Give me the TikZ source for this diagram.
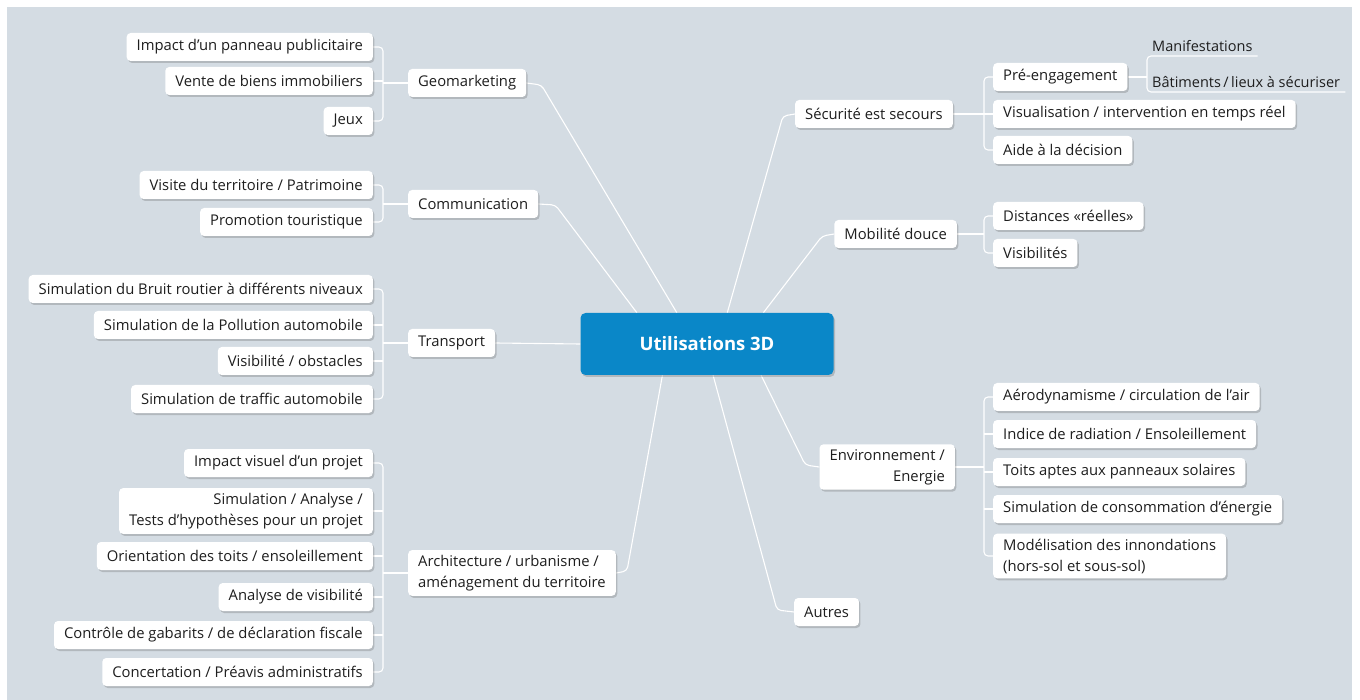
\documentclass[tikz,border=0pt]{standalone}
\usepackage{fontspec}
\setmainfont{Open Sans}
\usetikzlibrary{positioning,shadows}

\definecolor{bgblue}{HTML}{D4DCE3}
\definecolor{hubblue}{HTML}{0A87C8}
\definecolor{ink}{HTML}{1E1E1E}

\pgfdeclarelayer{bg}
\pgfdeclarelayer{links}
\pgfsetlayers{bg,links,main}

\tikzset{
    box/.style = {fill=white, rounded corners=4pt, text=ink,
        font=\fontsize{14.8}{21}\selectfont, inner xsep=10pt, inner ysep=5pt,
        minimum height=28pt,
        drop shadow={shadow xshift=1.5pt, shadow yshift=-2pt, opacity=0.3, fill=black!60}},
    leafL/.style = {box, anchor=east},
    leafR/.style = {box, anchor=west},
    hub/.style = {box, fill=hubblue, text=white, font=\fontsize{18.5}{20}\selectfont\bfseries,
        minimum width=253pt, minimum height=62pt, rounded corners=5pt},
    subtopic/.style = {text=ink, font=\fontsize{14.5}{17}\selectfont, anchor=south west,
        inner xsep=5pt, inner ysep=4pt},
    link/.style = {draw=white, line width=1.1pt, rounded corners=4pt}
}

\begin{document}
\begin{tikzpicture}[x=1pt, y=-1pt]
    \useasboundingbox (0,0) rectangle (1360,700);
    \begin{pgfonlayer}{bg}
        \fill[white] (0,0) rectangle (1360,700);
        \fill[bgblue] (7,7) rectangle (1352,700);
    \end{pgfonlayer}

    \node[hub] (cen) at (707,344) {Utilisations 3D};

    \coordinate (lx) at (383,0);
    \coordinate (rx) at (984,0);

    \node[leafL] (g1) at (373,47) {Impact d’un panneau publicitaire};
    \node[leafL] (g2) at (373,81) {Vente de biens immobiliers};
    \node[leafL] (g3) at (373,121) {Jeux};
    \node[box, anchor=west] (geo) at (408,83) {Geomarketing};

    \node[leafL] (c1) at (373,185) {Visite du territoire / Patrimoine};
    \node[leafL] (c2) at (373,222) {Promotion touristique};
    \node[box, anchor=west] (com) at (408,204) {Communication};

    \node[leafL] (t1) at (373,289) {Simulation du Bruit routier à différents niveaux};
    \node[leafL] (t2) at (373,325) {Simulation de la Pollution automobile};
    \node[leafL] (t3) at (373,361) {Visibilité / obstacles};
    \node[leafL] (t4) at (373,399) {Simulation de traffic automobile};
    \node[box, anchor=west] (tra) at (408,343) {Transport};

    \node[leafL] (a1) at (373,463) {Impact visuel d’un projet};
    \node[leafL, align=right] (a2) at (373,511) {Simulation / Analyse /\\Tests d’hypothèses pour un projet};
    \node[leafL] (a3) at (373,556) {Orientation des toits / ensoleillement};
    \node[leafL] (a4) at (373,597) {Analyse de visibilité};
    \node[leafL] (a5) at (373,635) {Contrôle de gabarits / de déclaration fiscale};
    \node[leafL] (a6) at (373,672) {Concertation / Préavis administratifs};
    \node[box, anchor=west, align=left] (arc) at (408,573) {Architecture / urbanisme /\\aménagement du territoire};

    \node[box, anchor=east] (sec) at (953,114) {Sécurité est secours};
    \node[leafR] (s1) at (993,77) {Pré-engagement};
    \node[leafR] (s2) at (993,114) {Visualisation / intervention en temps réel};
    \node[leafR] (s3) at (993,150) {Aide à la décision};
    \node[subtopic] (p1) at (1147,56) {Manifestations};
    \node[subtopic] (p2) at (1147,92) {Bâtiments\,/\,lieux à sécuriser};

    \node[box, anchor=east] (mob) at (957,234) {Mobilité douce};
    \node[leafR] (m1) at (993,216) {Distances «réelles»};
    \node[leafR] (m2) at (993,253) {Visibilités};

    \node[box, anchor=east, align=right] (env) at (955,467) {Environnement /\\Energie};
    \node[leafR] (e1) at (993,397) {Aérodynamisme / circulation de l’air};
    \node[leafR] (e2) at (993,434) {Indice de radiation / Ensoleillement};
    \node[leafR] (e3) at (993,472) {Toits aptes aux panneaux solaires};
    \node[leafR] (e4) at (993,509) {Simulation de consommation d’énergie};
    \node[leafR, align=left] (e5) at (993,556) {Modélisation des innondations\\(hors-sol et sous-sol)};

    \node[box, anchor=west] (aut) at (794,612) {Autres};

    \begin{pgfonlayer}{links}
        % branches from the hub
        \draw[link] (geo.east) -- ++(15,2) -- (cen.134);
        \draw[link] (com.east) -- ++(17,1) -- (cen.156);
        \draw[link] (tra.east) -- (cen.west);
        \draw[link] (arc.east) -- ++(11,-2) -- (cen.215);
        \draw[link] (sec.west) -- ++(-12,2) -- (cen.57);
        \draw[link] (mob.west) -- ++(-12,2) -- (cen.29);
        \draw[link] (env.west) -- ++(-14,-2) -- (cen.330);
        \draw[link] (aut.west) -- ++(-17,-2) -- (cen.281);

        % left brackets
        \draw[link] (g1.east) -- (g1.east -| lx) -- (g3.east -| lx) -- (g3.east);
        \draw[link] (g2.east) -- (g2.east -| lx);
        \draw[link] (geo.west) -- (geo.west -| lx);

        \draw[link] (c1.east) -- (c1.east -| lx) -- (c2.east -| lx) -- (c2.east);
        \draw[link] (com.west) -- (com.west -| lx);

        \draw[link] (t1.east) -- (t1.east -| lx) -- (t4.east -| lx) -- (t4.east);
        \foreach \n in {t2,t3}
            \draw[link] (\n.east) -- (\n.east -| lx);
        \draw[link] (tra.west) -- (tra.west -| lx);

        \draw[link] (a1.east) -- (a1.east -| lx) -- (a6.east -| lx) -- (a6.east);
        \foreach \n in {a2,a3,a4,a5}
            \draw[link] (\n.east) -- (\n.east -| lx);
        \draw[link] (arc.west) -- (arc.west -| lx);

        % right brackets
        \draw[link] (s1.west) -- (s1.west -| rx) -- (s3.west -| rx) -- (s3.west);
        \draw[link] (s2.west) -- (s2.west -| rx);
        \draw[link] (sec.east) -- (sec.east -| rx);

        \draw[link] (p1.south east) -- (p1.south west) -- (p2.south west) -- (p2.south east);
        \draw[link] (s1.east) -- (s1.east -| p1.south west);

        \draw[link] (m1.west) -- (m1.west -| rx) -- (m2.west -| rx) -- (m2.west);
        \draw[link] (mob.east) -- (mob.east -| rx);

        \draw[link] (e1.west) -- (e1.west -| rx) -- (e5.west -| rx) -- (e5.west);
        \foreach \n in {e2,e3,e4}
            \draw[link] (\n.west) -- (\n.west -| rx);
        \draw[link] (env.east) -- (env.east -| rx);
    \end{pgfonlayer}
\end{tikzpicture}
\end{document}
